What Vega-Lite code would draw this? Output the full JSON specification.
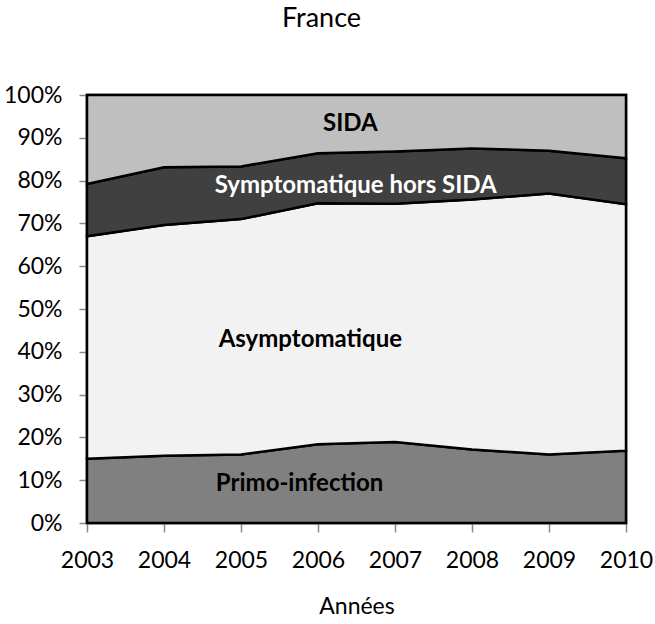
{
  "$schema": "https://vega.github.io/schema/vega-lite/v6.json",
  "width": 539,
  "height": 428,
  "autosize": {"type": "none"},
  "padding": {"left": 87, "top": 95, "right": 29, "bottom": 101},
  "background": "white",
  "config": {
    "font": "Lato",
    "view": {"stroke": "black", "strokeWidth": 2.5}
  },
  "title": {
    "text": "France",
    "font": "Lato",
    "fontSize": 27,
    "fontWeight": "normal",
    "color": "black",
    "anchor": "middle",
    "dx": -35,
    "offset": 51
  },
  "datasets": {
    "series": [
      {"annee": 2003, "categorie": "Primo-infection", "ordre": 1, "valeur": 15.0},
      {"annee": 2003, "categorie": "Asymptomatique", "ordre": 2, "valeur": 52.0},
      {"annee": 2003, "categorie": "Symptomatique hors SIDA", "ordre": 3, "valeur": 12.2},
      {"annee": 2003, "categorie": "SIDA", "ordre": 4, "valeur": 20.8},
      {"annee": 2004, "categorie": "Primo-infection", "ordre": 1, "valeur": 15.7},
      {"annee": 2004, "categorie": "Asymptomatique", "ordre": 2, "valeur": 53.9},
      {"annee": 2004, "categorie": "Symptomatique hors SIDA", "ordre": 3, "valeur": 13.5},
      {"annee": 2004, "categorie": "SIDA", "ordre": 4, "valeur": 16.9},
      {"annee": 2005, "categorie": "Primo-infection", "ordre": 1, "valeur": 16.0},
      {"annee": 2005, "categorie": "Asymptomatique", "ordre": 2, "valeur": 55.0},
      {"annee": 2005, "categorie": "Symptomatique hors SIDA", "ordre": 3, "valeur": 12.3},
      {"annee": 2005, "categorie": "SIDA", "ordre": 4, "valeur": 16.7},
      {"annee": 2006, "categorie": "Primo-infection", "ordre": 1, "valeur": 18.4},
      {"annee": 2006, "categorie": "Asymptomatique", "ordre": 2, "valeur": 56.3},
      {"annee": 2006, "categorie": "Symptomatique hors SIDA", "ordre": 3, "valeur": 11.7},
      {"annee": 2006, "categorie": "SIDA", "ordre": 4, "valeur": 13.6},
      {"annee": 2007, "categorie": "Primo-infection", "ordre": 1, "valeur": 18.9},
      {"annee": 2007, "categorie": "Asymptomatique", "ordre": 2, "valeur": 55.7},
      {"annee": 2007, "categorie": "Symptomatique hors SIDA", "ordre": 3, "valeur": 12.2},
      {"annee": 2007, "categorie": "SIDA", "ordre": 4, "valeur": 13.2},
      {"annee": 2008, "categorie": "Primo-infection", "ordre": 1, "valeur": 17.2},
      {"annee": 2008, "categorie": "Asymptomatique", "ordre": 2, "valeur": 58.4},
      {"annee": 2008, "categorie": "Symptomatique hors SIDA", "ordre": 3, "valeur": 11.9},
      {"annee": 2008, "categorie": "SIDA", "ordre": 4, "valeur": 12.5},
      {"annee": 2009, "categorie": "Primo-infection", "ordre": 1, "valeur": 16.0},
      {"annee": 2009, "categorie": "Asymptomatique", "ordre": 2, "valeur": 61.0},
      {"annee": 2009, "categorie": "Symptomatique hors SIDA", "ordre": 3, "valeur": 10.0},
      {"annee": 2009, "categorie": "SIDA", "ordre": 4, "valeur": 13.0},
      {"annee": 2010, "categorie": "Primo-infection", "ordre": 1, "valeur": 16.9},
      {"annee": 2010, "categorie": "Asymptomatique", "ordre": 2, "valeur": 57.6},
      {"annee": 2010, "categorie": "Symptomatique hors SIDA", "ordre": 3, "valeur": 10.7},
      {"annee": 2010, "categorie": "SIDA", "ordre": 4, "valeur": 14.8}
    ],
    "etiquettes": [
      {"annee": 2006.42, "part": 0.916, "texte": "SIDA", "couleur": "black"},
      {"annee": 2006.49, "part": 0.770, "texte": "Symptomatique hors SIDA", "couleur": "white"},
      {"annee": 2005.9, "part": 0.411, "texte": "Asymptomatique", "couleur": "black"},
      {"annee": 2005.76, "part": 0.075, "texte": "Primo-infection", "couleur": "black"}
    ]
  },
  "layer": [
    {
      "data": {"name": "series"},
      "mark": {"type": "area", "stroke": "black", "strokeWidth": 2.5, "strokeJoin": "miter"},
      "encoding": {
        "x": {
          "field": "annee",
          "type": "quantitative",
          "scale": {"domain": [2003, 2010], "nice": false, "zero": false},
          "axis": {
            "title": "Années",
            "values": [2003, 2004, 2005, 2006, 2007, 2008, 2009, 2010],
            "format": "d",
            "grid": false,
            "domain": false,
            "ticks": true,
            "tickSize": 9,
            "tickColor": "#888888",
            "tickWidth": 1.5,
            "labelFlush": false,
            "labelOverlap": false,
            "labelFont": "Lato",
            "labelFontSize": 23,
            "labelColor": "black",
            "labelPadding": 17,
            "titleFont": "Lato",
            "titleFontSize": 23,
            "titleFontWeight": "normal",
            "titleColor": "black",
            "titlePadding": 23
          }
        },
        "y": {
          "field": "valeur",
          "type": "quantitative",
          "stack": "normalize",
          "scale": {"domain": [0, 1], "nice": false},
          "axis": {
            "title": null,
            "format": ".0%",
            "values": [0, 0.1, 0.2, 0.3, 0.4, 0.5, 0.6, 0.7, 0.8, 0.9, 1],
            "grid": false,
            "domain": false,
            "tickSize": 8,
            "tickColor": "#888888",
            "tickWidth": 1.5,
            "labelFont": "Lato",
            "labelFontSize": 23,
            "labelColor": "black",
            "labelPadding": 17
          }
        },
        "order": {"field": "ordre", "type": "quantitative"},
        "color": {
          "field": "categorie",
          "type": "nominal",
          "scale": {
            "domain": ["Primo-infection", "Asymptomatique", "Symptomatique hors SIDA", "SIDA"],
            "range": ["#808080", "#f2f2f2", "#404040", "#bfbfbf"]
          },
          "legend": null
        }
      }
    },
    {
      "data": {"name": "etiquettes"},
      "mark": {"type": "text", "font": "Lato", "fontSize": 24, "fontWeight": "bold", "align": "center", "baseline": "alphabetic"},
      "encoding": {
        "x": {"field": "annee", "type": "quantitative"},
        "y": {"field": "part", "type": "quantitative"},
        "text": {"field": "texte"},
        "color": {"field": "couleur", "type": "nominal", "scale": null}
      }
    }
  ]
}
